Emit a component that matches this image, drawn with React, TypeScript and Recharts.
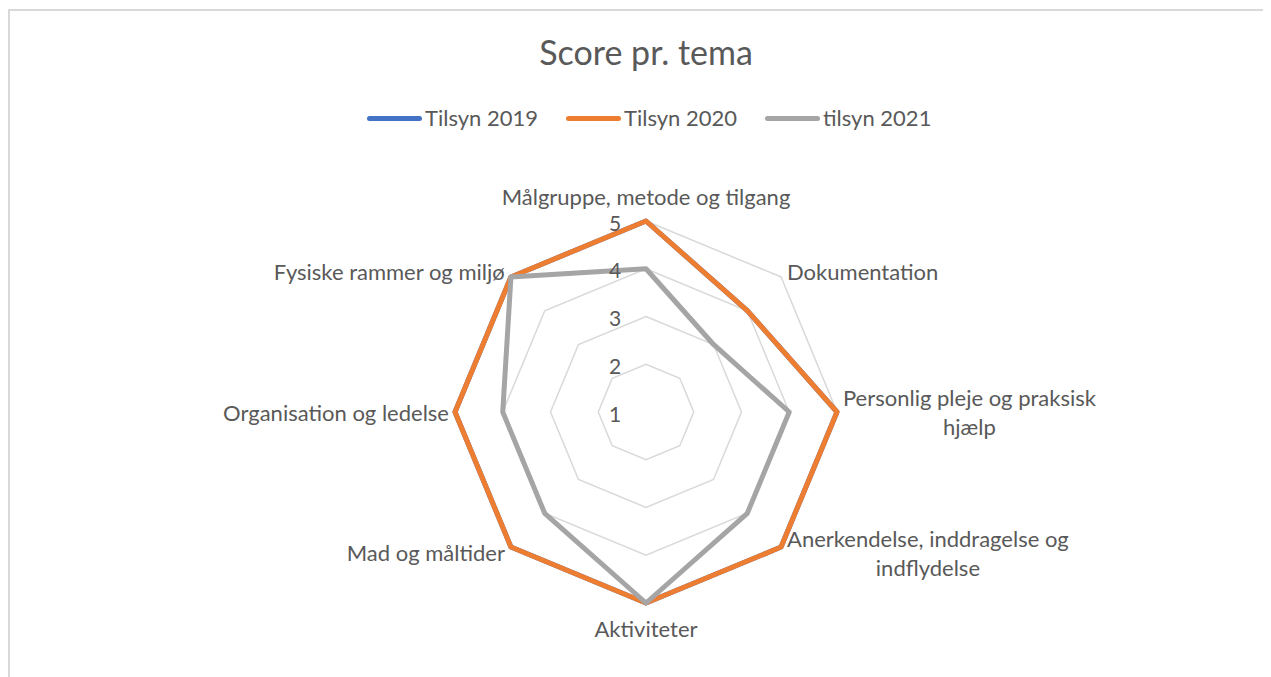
import React from "react";
import {
  RadarChart,
  Radar,
  PolarGrid,
  PolarAngleAxis,
  PolarRadiusAxis,
  Legend,
} from "recharts";

// Temaer (aksler), linjeskift markeret med \n
const themes = [
  "Målgruppe, metode og tilgang",
  "Dokumentation",
  "Personlig pleje og praksisk\nhjælp",
  "Anerkendelse, inddragelse og\nindflydelse",
  "Aktiviteter",
  "Mad og måltider",
  "Organisation og ledelse",
  "Fysiske rammer og miljø",
];

const tilsyn2019 = [5, 4, 5, 5, 5, 5, 5, 5];
const tilsyn2020 = [5, 4, 5, 5, 5, 5, 5, 5];
const tilsyn2021 = [4, 3, 4, 4, 5, 4, 4, 5];

const seriesNames = ["Tilsyn 2019", "Tilsyn 2020", "tilsyn 2021"];
const seriesColors = ["#4472C4", "#ED7D31", "#A5A5A5"];
const radiusTicks = [1, 2, 3, 4, 5];

const FONT = "Lato, 'Open Sans', sans-serif";
const TEXT = "#595959";
const LABEL_SIZE = 22;

const W = 1255;
const H = 669;
const CX = 638;
const CY = 404;
const R = 191;

const data = themes.map((t, i) => ({
  tema: t,
  s2019: tilsyn2019[i],
  s2020: tilsyn2020[i],
  s2021: tilsyn2021[i],
}));

let ctx: CanvasRenderingContext2D | null = null;
const textWidth = (s: string) => {
  if (!ctx) ctx = document.createElement("canvas").getContext("2d");
  if (!ctx) return s.length * 10;
  ctx.font = `${LABEL_SIZE}px ${FONT}`;
  return ctx.measureText(s).width;
};

const AngleTick = (props: any) => {
  const { x, y, payload } = props;
  const a = Math.atan2(CY - y, x - CX);
  const cos = Math.cos(a);
  const sin = Math.sin(a);
  const lines = String(payload.value).split("\n");
  const lineH = 29;

  // top and bottom labels sit centred on the axis
  if (Math.abs(cos) < 0.1) {
    const ty = CY - sin * 216;
    return (
      <text x={CX} y={ty} textAnchor="middle" dominantBaseline="central" fontSize={LABEL_SIZE} fill={TEXT} fontFamily={FONT}>
        {payload.value}
      </text>
    );
  }

  const vx = CX + cos * R;
  const vy = CY - sin * R;
  const sx = vx + Math.sign(cos) * 6;
  const blockW = Math.max(...lines.map(textWidth));
  const mid = sx + (Math.sign(cos) * blockW) / 2;
  const centerY = vy - sin * 8;
  const top = centerY - ((lines.length - 1) * lineH) / 2;
  return (
    <text textAnchor="middle" fontSize={LABEL_SIZE} fill={TEXT} fontFamily={FONT}>
      {lines.map((l, i) => (
        <tspan key={i} x={mid} y={top + i * lineH} dominantBaseline="central">
          {l}
        </tspan>
      ))}
    </text>
  );
};

const RadiusTick = (props: any) => {
  const { x, y, payload } = props;
  return (
    <text x={x - 31} y={y + 1} textAnchor="middle" dominantBaseline="central" fontSize={21} fill={TEXT} fontFamily={FONT}>
      {payload.value}
    </text>
  );
};

const LegendContent = () => (
  <div style={{ display: "flex", fontFamily: FONT, fontSize: LABEL_SIZE, color: TEXT, lineHeight: "26px" }}>
    {seriesNames.map((n, i) => (
      <div key={n} style={{ display: "flex", alignItems: "center", marginRight: 28 }}>
        <div style={{ width: 55, height: 5, borderRadius: 3, background: seriesColors[i], marginRight: 3 }} />
        <span style={{ whiteSpace: "nowrap" }}>{n}</span>
      </div>
    ))}
  </div>
);

export default function App() {
  return (
    <div style={{ width: W, height: H, overflow: "hidden", position: "relative" }}>
      <div
        style={{
          position: "absolute",
          left: 0,
          top: 1,
          width: W + 20,
          height: H + 20,
          borderTop: "2px solid #d9d9d9",
          borderLeft: "2px solid #d9d9d9",
          boxSizing: "border-box",
        }}
      />
      <div
        style={{
          position: "absolute",
          top: 27,
          left: 0,
          width: 1276,
          textAlign: "center",
          fontFamily: FONT,
          fontSize: 34,
          lineHeight: "34px",
          color: TEXT,
        }}
      >
        Score pr. tema
      </div>
      <div style={{ position: "absolute", left: 0, top: 0 }}>
        <RadarChart
          width={W}
          height={H}
          data={data}
          cx={CX}
          cy={CY}
          outerRadius={R}
          startAngle={90}
          endAngle={-270}
        >
          <PolarGrid gridType="polygon" radialLines={false} stroke="#d9d9d9" strokeWidth={1.5} />
          <PolarAngleAxis dataKey="tema" tick={<AngleTick />} tickLine={false} axisLine={false} />
          <PolarRadiusAxis
            angle={90}
            domain={[1, 5]}
            ticks={radiusTicks as any}
            tickCount={5}
            axisLine={false}
            tick={<RadiusTick />}
          />
          <Radar name={seriesNames[0]} dataKey="s2019" stroke={seriesColors[0]} strokeWidth={5} fillOpacity={0} dot={false} strokeLinejoin="round" isAnimationActive={false} />
          <Radar name={seriesNames[1]} dataKey="s2020" stroke={seriesColors[1]} strokeWidth={5} fillOpacity={0} dot={false} strokeLinejoin="round" isAnimationActive={false} />
          <Radar name={seriesNames[2]} dataKey="s2021" stroke={seriesColors[2]} strokeWidth={5} fillOpacity={0} dot={false} strokeLinejoin="round" isAnimationActive={false} />
          <Legend
            content={<LegendContent />}
            verticalAlign="top"
            wrapperStyle={{ top: 97, left: 359, width: "auto" }}
          />
        </RadarChart>
      </div>
    </div>
  );
}
